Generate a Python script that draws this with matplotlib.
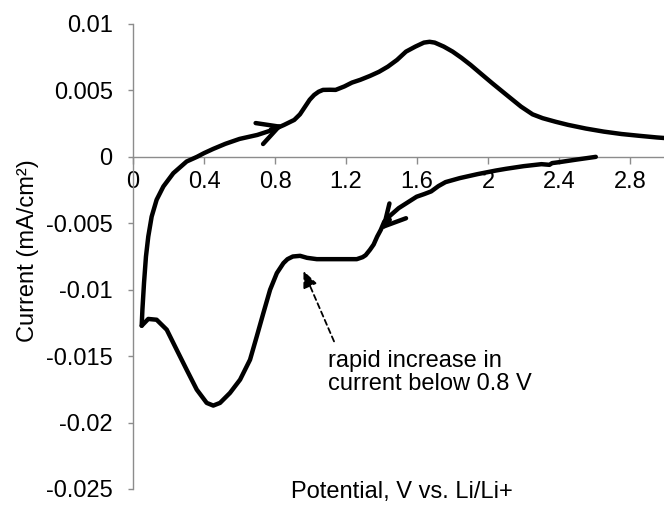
import numpy as np
import matplotlib
matplotlib.use("Agg")
import matplotlib.pyplot as plt

plt.rcParams['font.family'] = ['Liberation Sans', 'DejaVu Sans']

# Cathodic sweep: from 2.6 V down to the lower vertex
cathodic_v = [2.606, 2.5, 2.4, 2.36, 2.345, 2.30, 2.2, 2.1, 2.043, 1.94, 1.84, 1.76,
              1.72, 1.679, 1.64, 1.597, 1.55, 1.496, 1.45, 1.415, 1.395, 1.375,
              1.355, 1.334, 1.31, 1.293, 1.26, 1.233, 1.15, 1.073, 1.035, 0.98,
              0.941, 0.9, 0.87, 0.847, 0.81, 0.772, 0.734, 0.697, 0.659, 0.603,
              0.546, 0.49, 0.452, 0.415, 0.359, 0.302, 0.246, 0.19, 0.133, 0.086,
              0.049]
cathodic_i = [0.0, -0.0002, -0.0004, -0.00047, -0.0006, -0.00055, -0.0007, -0.0009,
              -0.00103, -0.0013, -0.0016, -0.0019, -0.0022, -0.0026, -0.0028,
              -0.003, -0.0034, -0.00386, -0.0044, -0.00487, -0.0055, -0.006,
              -0.0066, -0.007, -0.0074, -0.00755, -0.0077, -0.0077, -0.0077,
              -0.0077, -0.0077, -0.0076, -0.00745, -0.0075, -0.0077, -0.008,
              -0.00875, -0.01, -0.01176, -0.01351, -0.01527, -0.01677, -0.01777,
              -0.01852, -0.01872, -0.01852, -0.01752, -0.01602, -0.01452,
              -0.01301, -0.01226, -0.0122, -0.01271]

# Anodic sweep: from the lower vertex back up past 3 V
anodic_v = [0.049, 0.053, 0.062, 0.073, 0.086, 0.105, 0.133, 0.171, 0.227, 0.302,
            0.36, 0.40, 0.452, 0.52, 0.6, 0.7, 0.787, 0.85, 0.908, 0.94, 0.969,
            0.995, 1.02, 1.045, 1.07, 1.11, 1.141, 1.19, 1.233, 1.28, 1.334,
            1.385, 1.435, 1.487, 1.537, 1.59, 1.638, 1.67, 1.699, 1.75, 1.8,
            1.85, 1.901, 1.96, 2.023, 2.1, 2.185, 2.25, 2.307, 2.38, 2.449,
            2.55, 2.651, 2.75, 2.854, 2.95, 3.05]
anodic_i = [-0.01271, -0.0115, -0.0095, -0.0075, -0.006, -0.0045, -0.00323,
            -0.00223, -0.00123, -0.00035, 0.0, 0.00028, 0.0006, 0.00098, 0.00135,
            0.00165, 0.00203, 0.0024, 0.00278, 0.0032, 0.00378, 0.0043, 0.00466,
            0.0049, 0.00504, 0.00505, 0.00504, 0.0053, 0.00559, 0.0058, 0.00609,
            0.0064, 0.00679, 0.0073, 0.00792, 0.0083, 0.0086, 0.00866, 0.0086,
            0.0083, 0.00792, 0.00745, 0.00692, 0.00625, 0.00554, 0.0047,
            0.00378, 0.0032, 0.00291, 0.00264, 0.00241, 0.00213, 0.0019,
            0.00172, 0.00158, 0.00146, 0.00136]

x_ticks = [0, 0.4, 0.8, 1.2, 1.6, 2, 2.4, 2.8]
x_tick_labels = ["0", "0.4", "0.8", "1.2", "1.6", "2", "2.4", "2.8"]
y_ticks = [0.01, 0.005, 0, -0.005, -0.01, -0.015, -0.02, -0.025]
y_tick_labels = ["0.01", "0.005", "0", "-0.005", "-0.01", "-0.015", "-0.02", "-0.025"]

FS = 17
AXIS_GRAY = '#8c8c8c'
LW = 3.2

fig = plt.figure(figsize=(6.64, 5.18), dpi=100)
ax = fig.add_axes([133 / 664, 29 / 518, 1 - 133 / 664, 465 / 518])

for v, i in ((cathodic_v, cathodic_i), (anodic_v, anodic_i)):
    ax.plot(v, i, color='black', lw=LW, solid_capstyle='round',
            solid_joinstyle='round', zorder=3)

ax.set_xlim(0, 2.99)
ax.set_ylim(-0.025, 0.01)

# Left axis plus a horizontal axis through zero current
for side in ('top', 'right'):
    ax.spines[side].set_visible(False)
ax.spines['bottom'].set_position(('data', 0))
for side in ('left', 'bottom'):
    ax.spines[side].set_color(AXIS_GRAY)
    ax.spines[side].set_linewidth(1.0)

ax.set_xticks(x_ticks)
ax.set_xticklabels(x_tick_labels)
ax.set_yticks(y_ticks)
ax.set_yticklabels(y_tick_labels)
ax.tick_params(axis='both', direction='out', width=1.0,
               color=AXIS_GRAY, labelsize=FS, labelcolor='black')
ax.tick_params(axis='y', length=3.6, pad=11)
ax.tick_params(axis='x', length=5, pad=5)

fig.text(28 / 664, 1 - 251 / 518, "Current (mA/cm²)", rotation=90,
         ha='center', va='center', fontsize=FS)
fig.text(402 / 664, 1 - 492 / 518, "Potential, V vs. Li/Li+",
         ha='center', va='center', fontsize=FS)

# Open chevrons marking the sweep direction
chevron = dict(arrowstyle='->,head_length=0.75,head_width=0.4',
               mutation_scale=20, lw=LW, color='black', shrinkA=0, shrinkB=0)
ax.annotate('', xy=(0.847, 0.0024), xytext=(-9, -3.2),
            textcoords='offset points', arrowprops=chevron, zorder=4)
ax.annotate('', xy=(1.395, -0.0055), xytext=(6.5, 7.3),
            textcoords='offset points', arrowprops=chevron, zorder=4)

# Callout
ax.annotate('', xy=(0.960, -0.00858), xytext=(1.132, -0.01389),
            arrowprops=dict(arrowstyle='-|>,head_length=0.5,head_width=0.22',
                            mutation_scale=20, lw=1.3, ls=(0, (3, 2)),
                            color='black', shrinkA=0, shrinkB=0))
ax.text(1.10, -0.01622, "rapid increase in\ncurrent below 0.8 V",
        ha='left', va='center', fontsize=FS, linespacing=1.05)

fig.savefig("out.png", dpi=100)
